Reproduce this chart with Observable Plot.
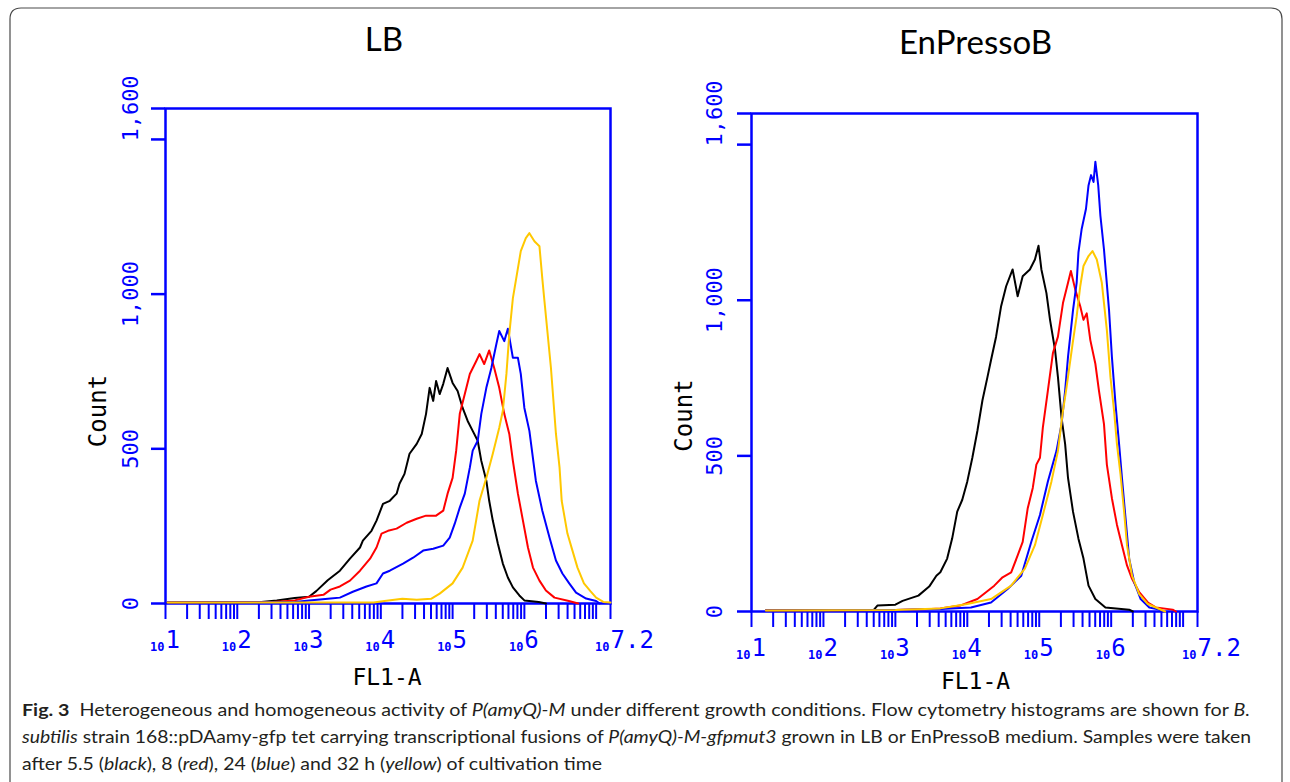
<!DOCTYPE html>
<html><head><meta charset="utf-8">
<script src="https://cdn.jsdelivr.net/npm/d3@7"></script>
<script src="https://cdn.jsdelivr.net/npm/@observablehq/plot@0.6"></script>
<style>
body{margin:0;background:#fff;}
#wrap{position:relative;width:1290px;height:782px;overflow:hidden;background:#fff;}
.panel{position:absolute;top:0;}
#deco{position:absolute;left:0;top:0;}
</style></head><body><div id="wrap"></div>
<script>
// ---- data (x values are log10 of FL1-A, y values are counts) ----
const panelTitles = ["LB", "EnPressoB"];
const seriesNames = ["5.5 h", "8 h", "24 h", "32 h"];
const seriesColors = ["#000000", "#ff0000", "#0000ff", "#ffc800"];
const yTickValues = [0, 500, 1000, 1500, 1600];
const yTickLabels = ["0", "500", "1,000", "", "1,600"];
const xDecades = [1, 2, 3, 4, 5, 6, 7.2];
const xDecadeLabels = ["1", "2", "3", "4", "5", "6", "7.2"];

const lbBlack = [[1.03,3],[2.3,4],[2.55,10],[2.8,18],[3.0,22],[3.1,40],[3.26,75],[3.43,106],[3.57,145],[3.71,181],[3.75,203],[3.87,235],[3.94,268],[4.03,322],[4.125,332],[4.22,355],[4.26,387],[4.33,419],[4.40,484],[4.50,516],[4.57,548],[4.63,613],[4.68,697],[4.73,655],[4.77,719],[4.82,677],[4.87,710],[4.93,761],[5.00,713],[5.07,687],[5.14,632],[5.21,590],[5.28,558],[5.35,526],[5.40,461],[5.47,397],[5.51,332],[5.56,268],[5.63,194],[5.70,129],[5.77,84],[5.84,52],[5.93,26],[6.0,10],[6.2,5],[6.3,0]];
const lbRed = [[1.03,3],[2.5,5],[2.8,10],[3.0,22],[3.2,28],[3.3,45],[3.43,55],[3.57,74],[3.71,106],[3.85,145],[3.94,181],[4.01,226],[4.10,235],[4.22,242],[4.36,261],[4.50,274],[4.63,284],[4.77,284],[4.87,300],[4.93,355],[5.00,406],[5.05,494],[5.10,613],[5.17,677],[5.24,742],[5.33,784],[5.375,806],[5.44,774],[5.51,818],[5.58,761],[5.65,697],[5.72,613],[5.79,548],[5.84,461],[5.91,355],[5.98,268],[6.05,181],[6.12,116],[6.21,74],[6.30,42],[6.42,19],[6.62,8],[6.75,0]];
const lbBlue = [[1.03,3],[2.8,5],[3.0,10],[3.3,16],[3.43,19],[3.61,38],[3.80,55],[3.94,65],[4.03,97],[4.125,106],[4.31,129],[4.45,148],[4.59,171],[4.73,177],[4.87,187],[4.96,213],[5.03,258],[5.10,310],[5.17,355],[5.24,439],[5.28,494],[5.35,526],[5.40,613],[5.47,697],[5.54,761],[5.61,839],[5.65,881],[5.72,848],[5.77,888],[5.84,794],[5.91,794],[5.95,742],[6.00,632],[6.07,558],[6.16,397],[6.25,300],[6.35,213],[6.44,139],[6.53,97],[6.625,65],[6.72,35],[6.86,16],[7.0,8],[7.05,0]];
const lbYellow = [[1.03,3],[3.9,3],[4.05,8],[4.3,15],[4.5,12],[4.7,15],[4.82,32],[5.00,65],[5.14,116],[5.28,203],[5.375,332],[5.47,406],[5.56,484],[5.65,568],[5.70,623],[5.75,742],[5.79,871],[5.84,987],[5.88,1042],[5.95,1139],[6.02,1181],[6.07,1197],[6.14,1171],[6.21,1155],[6.25,1050],[6.28,977],[6.37,762],[6.44,548],[6.49,440],[6.52,332],[6.60,226],[6.67,171],[6.74,116],[6.83,65],[6.92,40],[7.0,19],[7.1,5],[7.2,3]];

const epBlack = [[1.2,3],[2.7,5],[2.75,19],[3.0,22],[3.1,34],[3.32,51],[3.47,80],[3.57,115],[3.625,126],[3.72,170],[3.79,235],[3.86,321],[3.93,359],[4.00,418],[4.07,494],[4.14,580],[4.21,678],[4.28,753],[4.33,808],[4.40,883],[4.47,981],[4.54,1045],[4.63,1099],[4.70,1013],[4.77,1077],[4.87,1099],[4.94,1131],[4.99,1175],[5.03,1099],[5.10,1023],[5.15,937],[5.22,840],[5.26,753],[5.31,623],[5.36,538],[5.40,429],[5.47,320],[5.545,234],[5.615,170],[5.685,83],[5.78,40],[5.92,13],[6.25,6],[6.3,0]];
const epRed = [[1.2,3],[3.0,5],[3.5,8],[3.625,10],[3.9,19],[4.14,40],[4.26,62],[4.375,83],[4.49,110],[4.61,126],[4.70,180],[4.77,224],[4.84,332],[4.91,397],[4.96,472],[5.01,494],[5.05,591],[5.12,710],[5.19,830],[5.26,883],[5.33,991],[5.40,1056],[5.44,1094],[5.50,1035],[5.57,981],[5.615,937],[5.66,958],[5.71,872],[5.78,796],[5.83,710],[5.90,602],[5.94,472],[6.01,364],[6.08,279],[6.15,213],[6.22,148],[6.29,105],[6.39,62],[6.51,29],[6.62,13],[6.855,6],[6.9,0]];
const epBlue = [[1.2,3],[3.0,5],[3.625,8],[4.05,13],[4.33,29],[4.56,72],[4.75,115],[4.89,224],[5.01,310],[5.12,418],[5.24,516],[5.31,602],[5.36,710],[5.40,818],[5.47,969],[5.52,1056],[5.545,1154],[5.59,1229],[5.65,1294],[5.685,1369],[5.72,1402],[5.755,1380],[5.78,1445],[5.82,1369],[5.85,1272],[5.90,1163],[5.97,969],[6.01,818],[6.06,667],[6.11,538],[6.15,429],[6.20,299],[6.25,170],[6.32,94],[6.41,40],[6.53,13],[6.67,6],[6.7,0]];
const epYellow = [[1.2,3],[3.0,5],[3.625,10],[4.00,24],[4.33,40],[4.61,83],[4.80,138],[4.94,213],[5.05,310],[5.17,418],[5.26,516],[5.33,645],[5.38,721],[5.465,862],[5.52,948],[5.57,1045],[5.615,1110],[5.685,1142],[5.74,1158],[5.80,1131],[5.87,1056],[5.94,904],[5.99,753],[6.04,645],[6.08,538],[6.13,440],[6.18,320],[6.22,213],[6.29,115],[6.39,56],[6.51,24],[6.67,8],[6.75,0]];

const lbSeries = [lbBlack, lbRed, lbBlue, lbYellow];
const epSeries = [epBlack, epRed, epBlue, epYellow];

// log minor/major tick positions for the FL1-A axis
const xTicks = [];
for (let d = 1; d <= 6; d++) for (let k = 1; k <= 9; k++) xTicks.push(k * 10 ** d);
xTicks.push(10 ** 7, 10 ** 7.2);

const BLUE = "#0000ff";
const MONO = "DejaVu Sans Mono, monospace";

function panel(opts) {
  const {title, series, left, mL, mR, mT, mB, titleDx, titleDy, countDy, flDx, flDy, yLabDx} = opts;
  const lines = series.map((s, i) => Plot.line(s, {
    x: d => 10 ** d[0], y: d => d[1], stroke: seriesColors[i], strokeWidth: 2, title: () => seriesNames[i]
  }));
  const yLab = yTickValues.map((v, i) => ({v, t: yTickLabels[i]})).filter(d => d.t);
  const chart = Plot.plot({
    width: 645, height: 700,
    marginLeft: mL, marginRight: mR, marginTop: mT, marginBottom: mB,
    style: {background: "transparent", overflow: "visible"},
    x: {type: "log", domain: [10, 10 ** 7.2]},
    y: {domain: [0, 1600]},
    marks: [
      Plot.axisX({ticks: xTicks, tickSize: 16, tickFormat: () => "", stroke: BLUE, strokeWidth: 2, label: null}),
      Plot.axisY({ticks: yTickValues, tickSize: 14, tickFormat: () => "", stroke: BLUE, strokeWidth: 2.5, label: null}),
      Plot.frame({stroke: BLUE, strokeWidth: 2.5}),
      ...lines,
      Plot.text(yLab, {y: "v", text: "t", frameAnchor: "left", rotate: -90, textAnchor: "middle", lineAnchor: "bottom",
        dx: yLabDx, fill: BLUE, fontFamily: MONO, fontSize: 22}),
      Plot.text(xDecades, {x: d => 10 ** d, text: () => "10", frameAnchor: "bottom", textAnchor: "end", lineAnchor: "bottom",
        dx: -1, dy: 47, fill: BLUE, fontFamily: MONO, fontWeight: "bold", fontSize: 12}),
      Plot.text(xDecades, {x: d => 10 ** d, text: (d, i) => xDecadeLabels[i], frameAnchor: "bottom", textAnchor: "start", lineAnchor: "bottom",
        dx: 0, dy: 44, fill: BLUE, fontFamily: MONO, fontSize: 24}),
      Plot.text(["Count"], {text: d => d, frameAnchor: "left", rotate: -90, textAnchor: "middle", lineAnchor: "middle",
        dx: -67, dy: countDy, fill: "#000", fontFamily: MONO, fontSize: 24}),
      Plot.text(["FL1-A"], {text: d => d, frameAnchor: "bottom", textAnchor: "middle", lineAnchor: "bottom",
        dx: flDx, dy: flDy, fill: "#000", fontFamily: MONO, fontSize: 23}),
      Plot.text([title], {text: d => d, frameAnchor: "top", textAnchor: "middle", lineAnchor: "bottom",
        dx: titleDx, dy: titleDy, fill: "#000", fontFamily: "Lato, sans-serif", fontSize: 33})
    ]
  });
  const div = document.createElement("div");
  div.className = "panel";
  div.style.left = left + "px";
  div.appendChild(chart);
  return div;
}

const wrap = document.getElementById("wrap");
wrap.appendChild(panel({title: panelTitles[0], series: lbSeries, left: 0, mL: 165, mR: 35, mT: 108, mB: 97,
  titleDx: -4, titleDy: -58, countDy: 55, flDx: -1, flDy: 81, yLabDx: -28}));
wrap.appendChild(panel({title: panelTitles[1], series: epSeries, left: 645, mL: 106, mR: 93, mT: 113, mB: 89,
  titleDx: 1, titleDy: -60, countDy: 53, flDx: 1, flDy: 77, yLabDx: -30}));

// ---- border and caption ----
const captionLines = [
  [["b", "Fig. 3"], ["n", "  Heterogeneous and homogeneous activity of "], ["i", "P(amyQ)-M"], ["n", " under different growth conditions. Flow cytometry histograms are shown for "], ["i", "B."]],
  [["i", "subtilis"], ["n", " strain 168::pDAamy-gfp tet carrying transcriptional fusions of "], ["i", "P(amyQ)-M-gfpmut3"], ["n", " grown in LB or EnPressoB medium. Samples were taken"]],
  [["n", "after 5.5 ("], ["i", "black"], ["n", "), 8 ("], ["i", "red"], ["n", "), 24 ("], ["i", "blue"], ["n", ") and 32 h ("], ["i", "yellow"], ["n", ") of cultivation time"]]
];
const captionWidths = [1228, 1229, 580];
const captionBaselines = [716, 743, 770];

const svg = d3.select(wrap).append("svg").attr("id", "deco").attr("width", 1290).attr("height", 782);
svg.append("path").attr("d", "M10,800 V19 Q10,8 21,8 H1271 Q1282,8 1282,19 V800")
  .attr("fill", "none").attr("stroke", "#4a4a4a").attr("stroke-width", 1.2);
captionLines.forEach((parts, li) => {
  const t = svg.append("text").attr("x", 22).attr("y", captionBaselines[li])
    .attr("font-family", "Lato, 'Open Sans', sans-serif").attr("font-size", 17).attr("fill", "#231f20")
    .attr("textLength", captionWidths[li]).attr("lengthAdjust", "spacingAndGlyphs")
    .style("white-space", "pre");
  parts.forEach(([k, s]) => {
    const ts = t.append("tspan").text(s);
    if (k === "b") ts.attr("font-weight", "bold");
    if (k === "i") ts.attr("font-style", "italic");
  });
});
</script></body></html>
